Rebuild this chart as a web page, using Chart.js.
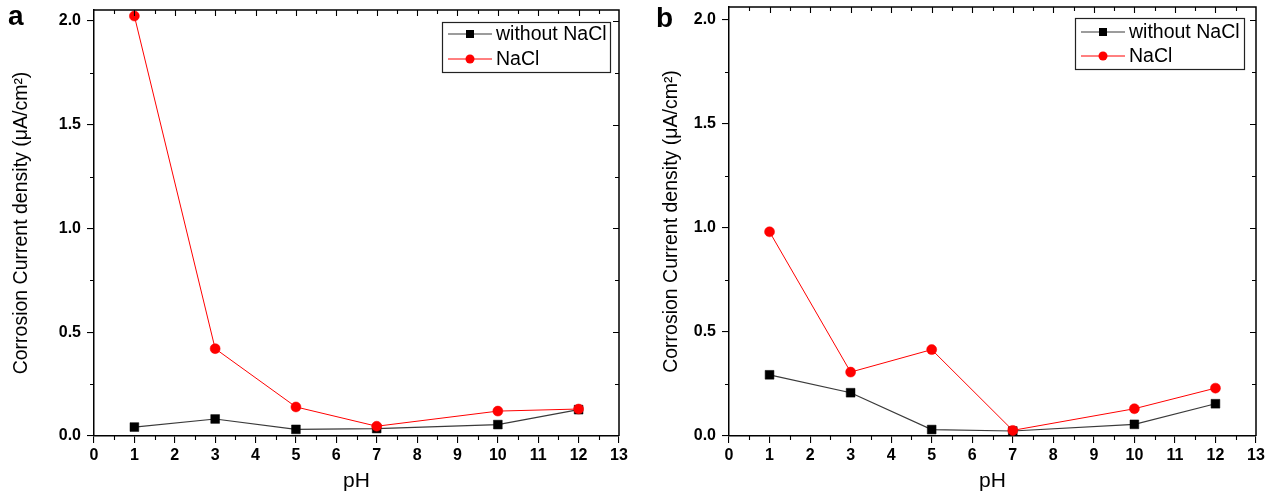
<!DOCTYPE html>
<html>
<head>
<meta charset="utf-8">
<script src="https://cdn.jsdelivr.net/npm/chart.js@4.4.1/dist/chart.umd.min.js"></script>
<style>
  html, body { margin: 0; padding: 0; background: #fff; }
  #wrap { position: relative; width: 1274px; height: 494px; overflow: hidden; }
  .pane { position: absolute; top: 0; width: 637px; height: 494px; }
  #pa { left: 0; }
  #pb { left: 637px; }
</style>
</head>
<body>
<div id="wrap">
  <div class="pane" id="pa"><canvas id="ca" width="637" height="494"></canvas></div>
  <div class="pane" id="pb"><canvas id="cb" width="637" height="494"></canvas></div>
</div>
<script>
// ---- data ----
const phValues = [1, 3, 5, 7, 10, 12];
const aWithoutNaCl = [0.043, 0.082, 0.032, 0.036, 0.055, 0.127];
const aNaCl = [2.024, 0.421, 0.140, 0.047, 0.120, 0.130];
const bWithoutNaCl = [0.294, 0.208, 0.031, 0.024, 0.056, 0.155];
const bNaCl = [0.981, 0.307, 0.415, 0.027, 0.131, 0.230];
const xTickValues = [0, 1, 2, 3, 4, 5, 6, 7, 8, 9, 10, 11, 12, 13];
const yTickValues = [0, 0.5, 1.0, 1.5, 2.0];
const seriesLabels = ['without NaCl', 'NaCl'];
const xTitle = 'pH';
const yTitle = 'Corrosion Current density (\u03BCA/cm\u00B2)';
const panelLabels = ['a', 'b'];

const FONT = '"Liberation Sans", Arial, sans-serif';

function toPoints(xs, ys) { return xs.map((x, i) => ({ x: x, y: ys[i] })); }

// plugin: frame (top/right), minor ticks, mirror ticks, legend box, panel letter
const decorPlugin = {
  id: 'decor',
  afterDraw(chart, args, opts) {
    const ctx = chart.ctx;
    const ca = chart.chartArea;
    const xs = chart.scales.x, ys = chart.scales.y;
    ctx.save();
    ctx.strokeStyle = '#000';
    ctx.lineWidth = 1.5;
    ctx.beginPath();
    ctx.moveTo(ca.left, ca.top); ctx.lineTo(ca.right, ca.top); ctx.lineTo(ca.right, ca.bottom);
    ctx.stroke();
    ctx.lineWidth = 1.1;
    ctx.beginPath();
    for (let v = xs.min; v <= xs.max + 1e-9; v += 0.5) {
      const px = Math.round(xs.getPixelForValue(v)) + 0.5;
      const major = Math.abs(v - Math.round(v)) < 1e-9;
      if (!major) { ctx.moveTo(px, ca.bottom); ctx.lineTo(px, ca.bottom + 4); }
      if (v > xs.min && v < xs.max) { ctx.moveTo(px, ca.top); ctx.lineTo(px, ca.top + (major ? 6 : 4)); }
    }
    for (let v = 0; v <= ys.max + 1e-9; v += 0.25) {
      const py = Math.round(ys.getPixelForValue(v)) + 0.5;
      const major = Math.abs(v * 2 - Math.round(v * 2)) < 1e-9;
      if (!major) { ctx.moveTo(ca.left, py); ctx.lineTo(ca.left - 4, py); }
      if (v > 0) { ctx.moveTo(ca.right, py); ctx.lineTo(ca.right - (major ? 6 : 4), py); }
    }
    ctx.stroke();

    // legend box
    const lg = opts.legend;
    ctx.lineWidth = 1.2;
    ctx.strokeStyle = '#222';
    ctx.strokeRect(lg.x + 0.5, lg.y + 0.5, lg.w, lg.h);
    chart.data.datasets.forEach((ds, i) => {
      const cy = lg.y + lg.row0 + i * lg.rowGap;
      ctx.strokeStyle = ds.borderColor;
      ctx.lineWidth = ds.borderWidth;
      ctx.beginPath();
      ctx.moveTo(lg.x + 6, cy); ctx.lineTo(lg.x + 50, cy);
      ctx.stroke();
      ctx.fillStyle = ds.pointBackgroundColor;
      const mx = lg.x + 28;
      if (ds.pointStyle === 'rect') {
        ctx.fillRect(mx - 4, cy - 4, 8, 8);
      } else {
        ctx.beginPath(); ctx.arc(mx, cy, 4.5, 0, Math.PI * 2); ctx.fill();
      }
      ctx.fillStyle = '#000';
      ctx.font = '19.5px ' + FONT;
      ctx.textBaseline = 'middle';
      ctx.textAlign = 'left';
      ctx.fillText(ds.label, lg.x + 54, cy + 1);
    });

    // panel letter
    ctx.fillStyle = '#000';
    ctx.font = 'bold 28px ' + FONT;
    ctx.textBaseline = 'alphabetic';
    ctx.textAlign = 'left';
    ctx.fillText(opts.letter, opts.letterX, opts.letterY);
    ctx.restore();
  }
};

function makeChart(canvasId, withoutVals, naclVals, cfg) {
  const chart = new Chart(document.getElementById(canvasId), {
    type: 'scatter',
    data: {
      datasets: [
        {
          label: seriesLabels[0],
          data: toPoints(phValues, withoutVals),
          showLine: true,
          borderColor: '#3a3a3a',
          borderWidth: 1.2,
          pointStyle: 'rect',
          pointRadius: 6.2,
          pointBackgroundColor: '#000',
          pointBorderColor: '#000',
          pointBorderWidth: 0.5,
          order: 2
        },
        {
          label: seriesLabels[1],
          data: toPoints(phValues, naclVals),
          showLine: true,
          borderColor: '#ff0000',
          borderWidth: 1,
          pointStyle: 'circle',
          pointRadius: 5,
          pointBackgroundColor: '#ff0000',
          pointBorderColor: '#ff0000',
          pointBorderWidth: 0.5,
          order: 1
        }
      ]
    },
    options: {
      responsive: false,
      animation: false,
      events: [],
      layout: { padding: { left: 0, top: cfg.top, right: 637 - cfg.right, bottom: 0 } },
      plugins: {
        legend: { display: false },
        tooltip: { enabled: false },
        decor: { legend: cfg.legend, letter: cfg.letter, letterX: cfg.letterX, letterY: cfg.letterY }
      },
      scales: {
        x: {
          type: 'linear',
          min: 0, max: 13,
          afterBuildTicks: s => { s.ticks = xTickValues.map(v => ({ value: v })); },
          afterFit: s => { s.height = 494 - cfg.bottom; s.paddingLeft = 0; s.paddingRight = 0; s.paddingTop = 0; s.paddingBottom = 0; },
          ticks: { color: '#000', font: { family: FONT, size: 16, weight: 'bold' }, padding: 3, maxRotation: 0, autoSkip: false },
          grid: { display: true, drawOnChartArea: false, drawTicks: true, tickLength: 7, color: '#000', lineWidth: 1.1 },
          border: { display: true, color: '#000', width: 1.5 },
          title: { display: true, text: xTitle, color: '#000', font: { family: FONT, size: 21 }, padding: { top: 0, bottom: 0 } }
        },
        y: {
          type: 'linear',
          min: 0, max: cfg.ymax,
          afterBuildTicks: s => { s.ticks = yTickValues.map(v => ({ value: v })); },
          afterFit: s => { s.width = cfg.left; s.paddingLeft = 0; s.paddingRight = 0; s.paddingTop = 0; s.paddingBottom = 0; },
          ticks: { color: '#000', font: { family: FONT, size: 16, weight: 'bold' }, padding: 6, callback: v => Number(v).toFixed(1) },
          grid: { display: true, drawOnChartArea: false, drawTicks: true, tickLength: 7, color: '#000', lineWidth: 1.1 },
          border: { display: true, color: '#000', width: 1.5 },
          title: { display: true, text: yTitle, color: '#000', font: { family: FONT, size: 19.5 }, padding: { top: cfg.ytitlePad, bottom: 0 } }
        }
      }
    },
    plugins: [decorPlugin]
  });
  return chart;
}

makeChart('ca', aWithoutNaCl, aNaCl, {
  left: 94, right: 619, top: 10, bottom: 436, ymax: 2.053, ytitlePad: 10,
  legend: { x: 442, y: 22, w: 168, h: 50, row0: 12, rowGap: 25 },
  letter: panelLabels[0], letterX: 8, letterY: 25
});
makeChart('cb', bWithoutNaCl, bNaCl, {
  left: 92, right: 619, top: 7, bottom: 436, ymax: 2.061, ytitlePad: 23,
  legend: { x: 1075 - 637, y: 18, w: 169, h: 51, row0: 14, rowGap: 24 },
  letter: panelLabels[1], letterX: 19, letterY: 27
});
</script>
</body>
</html>
